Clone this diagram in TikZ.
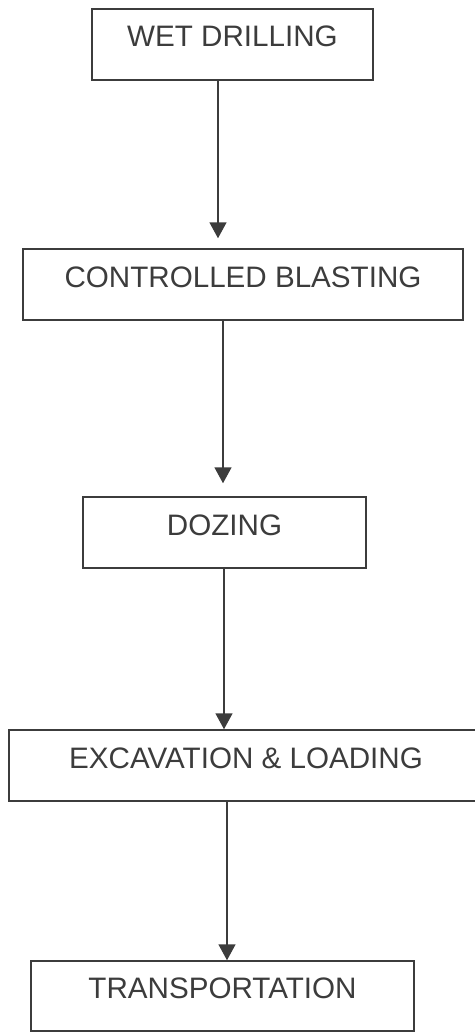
\documentclass[tikz,border=0pt]{standalone}
\usepackage{fontspec}
\setmainfont{Liberation Sans}
\usetikzlibrary{arrows.meta}
\definecolor{ink}{HTML}{3C3C3C}
\tikzset{
  stage/.style={draw=ink,line width=1.5pt,text=ink,inner sep=0pt,minimum height=71pt,
    text height=25pt,text depth=20pt,font=\fontsize{29.6pt}{34pt}\selectfont},
  flow/.style={draw=ink,line width=1.6pt,-{Triangle[width=17pt,length=16pt]}}
}
\begin{document}
\begin{tikzpicture}[x=1pt,y=-1pt]
        \useasboundingbox (0,0) rectangle (474,1033);
        \node[stage,minimum width=281pt] (wet) at (232.5,44.5){WET DRILLING};
        \node[stage,minimum width=440pt] (blast) at (243,284.5){CONTROLLED BLASTING};
        \node[stage,minimum width=283pt] (doze) at (224.5,532.5){DOZING};
        \node[stage,minimum width=474pt] (excav) at (246,765.5){EXCAVATION \& LOADING};
        \node[stage,minimum width=383pt,minimum height=70pt] (trans) at (222.5,996){TRANSPORTATION};
        \draw[flow,shorten >=10pt] ([xshift=-14.5pt]wet.south) -- ([xshift=-14.5pt]wet.south |- blast.north);
        \draw[flow,shorten >=13pt] ([xshift=-20pt]blast.south) -- ([xshift=-20pt]blast.south |- doze.north);
        \draw[flow] ([xshift=-0.5pt]doze.south) -- ([xshift=-0.5pt]doze.south |- excav.north);
        \draw[flow] ([xshift=-19pt]excav.south) -- ([xshift=-19pt]excav.south |- trans.north);
\end{tikzpicture}
\end{document}
